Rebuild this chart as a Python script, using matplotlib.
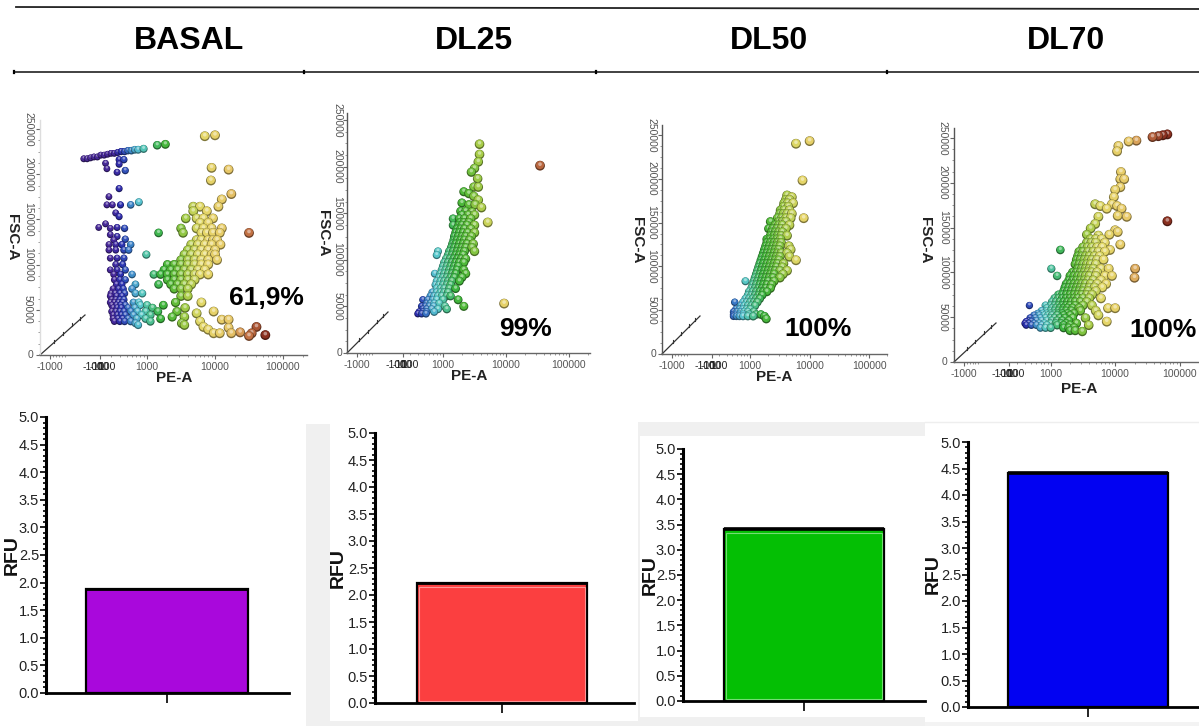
import numpy as np
import matplotlib
matplotlib.use("Agg")
import matplotlib.pyplot as plt
from matplotlib.colors import LinearSegmentedColormap, to_rgb
from matplotlib.patches import Rectangle

plt.rcParams['font.family'] = ['Liberation Sans', 'DejaVu Sans']

# DATA
titles = ["BASAL", "DL25", "DL50", "DL70"]
percent_labels = ["61,9%", "99%", "100%", "100%"]
rfu_values = [1.88, 2.22, 3.41, 4.42]
bar_colors = ["#a908dc", "#fb3f40", "#04bf04", "#0202f2"]
rfu_ticks = ["0.0", "0.5", "1.0", "1.5", "2.0", "2.5", "3.0", "3.5", "4.0", "4.5", "5.0"]
fsc_ticks = [0, 50, 100, 150, 200, 250]
fsc_tick_labels = ["0", "50000", "100000", "150000", "200000", "250000"]
pe_tick_labels = ["1000", "10000", "100000"]

# each row: FSC-A (thousands), then log10(PE-A) of the dots on that row
basal_rows = [
    (217, [2.07, 2.12]), (218, [2.17]), (219, [2.22, 2.27]), (221, [2.32, 2.37]), (222, [2.42]),
    (223, [2.47, 2.52]), (224, [2.57]), (225, [2.62, 2.67]), (226, [2.72, 2.77]), (227, [2.82, 2.87]),
    (228, [2.95]), (232, [3.15]), (233, [3.27]), (242, [3.85]), (243, [4.0]),
    (216, [2.59, 2.66]), (212, [2.39]), (211, [2.59]), (207, [3.95]), (206, [2.41]), (205, [4.2]),
    (204, [2.68]), (202, [2.56]), (193, [3.94]), (184, [2.59]), (178, [4.24]), (175, [2.44]),
    (172, [4.1]), (169, [2.88]), (166, [2.41, 2.49, 2.61, 2.76]), (164, [3.68, 3.78, 4.05]),
    (159, [3.68, 3.88]), (157, [2.54]), (153, [2.59]), (151, [3.57, 3.73, 3.83, 3.97]),
    (146, [3.78, 3.9]), (145, [2.39]), (141, [2.29, 2.56]), (140, [2.46, 2.67, 3.5, 3.73, 3.83, 3.95, 4.1]),
    (135, [3.17, 3.53, 3.8, 3.88, 3.97, 4.07, 4.5]), (133, [2.46]), (131, [2.56]), (128, [2.68]),
    (127, [2.51, 3.73, 3.8, 3.9, 3.97, 4.03]), (122, [2.44, 2.54, 2.63, 2.76, 3.65, 3.75, 3.85, 3.95, 4.08]),
    (116, [2.44, 2.54, 2.66, 2.73, 3.6, 3.7, 3.8, 3.9, 4.0]), (111, [2.99, 3.55, 3.65, 3.75, 3.85, 3.95, 4.0]),
    (107, [2.46, 2.56, 2.66]), (105, [3.5, 3.6, 3.7, 3.8, 3.9, 4.03]), (100, [2.54, 2.64, 3.3, 3.4, 3.5, 3.6, 3.7, 3.8, 3.9]),
    (94, [2.46, 2.56, 2.68, 3.25, 3.35, 3.45, 3.55, 3.65, 3.75, 3.85]),
    (89, [2.51, 2.61, 2.78, 3.1, 3.2, 3.3, 3.4, 3.5, 3.6, 3.7, 3.78, 3.9]),
    (83, [2.52, 2.6, 2.68, 3.3, 3.4, 3.5, 3.6, 3.7]), (78, [2.55, 2.63, 2.83, 3.17, 3.35, 3.45, 3.55, 3.65]),
    (73, [2.5, 2.58, 2.65, 2.78, 3.4, 3.5, 3.6]), (68, [2.47, 2.53, 2.6, 2.67, 2.83, 2.93]),
    (65, [2.46, 2.55, 2.63, 3.5, 3.6]), (61, [2.48, 2.54, 2.6, 2.66]), (58, [2.46, 2.52, 2.58, 2.64, 2.8, 2.88, 3.42, 3.8]),
    (55, [2.48, 2.55, 2.61, 2.68, 2.9, 3.0, 3.24]), (52, [2.5, 2.56, 2.62, 2.72, 2.82, 3.08, 3.56]),
    (48, [2.48, 2.54, 2.6, 2.66, 2.76, 2.86, 2.98, 3.16, 3.44, 3.98]), (46, [3.73]),
    (44, [2.5, 2.56, 2.62, 2.68, 2.8, 2.92, 3.05]), (42, [3.37, 3.55]),
    (40, [2.5, 2.57, 2.64, 2.72, 2.85, 2.98, 3.2]), (39, [4.1, 4.2]), (37, [2.52, 2.6, 2.67, 2.76, 3.78, 3.05]),
    (35, [2.83, 3.51]), (33, [2.87, 3.55]), (31, [3.83, 4.61]), (30, [4.2]), (28, [3.9]),
    (25, [4.37]), (24, [3.98, 4.07, 4.24, 4.54]), (22, [4.74]), (21, [4.5]),
]

dl25_rows = [
    (224, [3.58]), (213, [3.58]), (205, [3.56]), (201, [4.54]), (198, [3.5]), (194, [3.45]), (187, [3.55]),
    (178, [3.49, 3.56]), (173, [3.33]), (171, [3.41]), (168, [3.49]), (164, [3.56]), (161, [3.3]),
    (159, [3.41, 3.51]), (156, [3.61]), (152, [3.28, 3.36]), (151, [3.46]), (148, [3.3, 3.4, 3.5]),
    (144, [3.16, 3.26, 3.34, 3.44]), (140, [3.27, 3.33, 3.41, 3.71]), (137, [3.16, 3.25, 3.3, 3.38, 3.5]),
    (133, [3.22, 3.28, 3.34, 3.44]), (129, [3.2, 3.26, 3.32, 3.39, 3.5]), (125, [3.18, 3.24, 3.3, 3.36, 3.45]),
    (121, [3.17, 3.22, 3.28, 3.34, 3.42]), (117, [3.15, 3.2, 3.26, 3.32, 3.38, 3.48]),
    (113, [3.13, 3.18, 3.24, 3.3, 3.36, 3.46]), (109, [2.92, 3.1, 3.16, 3.22, 3.28, 3.34, 3.5]),
    (105, [2.9, 3.08, 3.14, 3.2, 3.26, 3.32]), (101, [3.05, 3.11, 3.17, 3.23, 3.29, 3.36]),
    (97, [3.02, 3.08, 3.14, 3.2, 3.26, 3.33]), (93, [3.0, 3.06, 3.12, 3.18, 3.24]),
    (89, [2.98, 3.04, 3.1, 3.16, 3.22, 3.33]), (85, [2.87, 2.96, 3.02, 3.08, 3.14, 3.2, 3.36]),
    (81, [2.94, 3.0, 3.06, 3.12, 3.18, 3.3]), (77, [2.9, 2.96, 3.02, 3.08, 3.14, 3.26]),
    (73, [2.88, 2.94, 3.0, 3.06, 3.12]), (69, [2.9, 2.96, 3.02, 3.1, 3.2]), (65, [2.83, 2.9, 2.96, 3.02, 3.08]),
    (61, [2.8, 2.86, 2.92, 2.98, 3.06, 3.12]), (57, [2.68, 2.76, 2.84, 2.9, 3.0, 3.24]),
    (53, [2.74, 2.8, 2.86, 2.94, 3.97]), (50, [2.66, 2.72, 2.78, 2.85, 3.03, 3.33]), (47, [2.68, 2.74, 2.82, 2.92, 3.06]),
    (44, [2.62, 2.68, 2.74, 2.86]), (42, [2.6, 2.66, 2.73]),
]

dl50_rows = [
    (243, [4.0]), (240, [3.77]), (198, [3.88]), (181, [3.62]), (179, [3.7]), (176, [3.6, 3.66]), (172, [3.57, 3.63, 3.72]),
    (168, [3.56, 3.64]), (164, [3.51, 3.57, 3.66]), (160, [3.5, 3.56, 3.62, 3.7]), (155, [3.46, 3.53, 3.6, 3.68, 3.9]),
    (151, [3.34, 3.48, 3.54, 3.6]), (147, [3.42, 3.48, 3.54, 3.66]), (143, [3.31, 3.38, 3.45, 3.52, 3.6]),
    (139, [3.36, 3.42, 3.48, 3.54]), (135, [3.34, 3.4, 3.46, 3.52, 3.62]), (131, [3.28, 3.33, 3.39, 3.45, 3.51]),
    (127, [3.28, 3.34, 3.4, 3.46, 3.52]), (123, [3.26, 3.32, 3.38, 3.44, 3.5, 3.65]),
    (119, [3.24, 3.3, 3.36, 3.42, 3.48, 3.68]), (115, [3.22, 3.28, 3.34, 3.4, 3.46, 3.52, 3.62]),
    (111, [3.2, 3.26, 3.32, 3.38, 3.44, 3.5, 3.66]), (107, [3.18, 3.24, 3.3, 3.36, 3.42, 3.48, 3.77]),
    (103, [3.16, 3.22, 3.28, 3.34, 3.4, 3.46, 3.56]), (99, [3.14, 3.2, 3.26, 3.32, 3.38, 3.44, 3.54]),
    (95, [3.12, 3.18, 3.24, 3.3, 3.36, 3.42, 3.5, 3.62]), (91, [3.1, 3.16, 3.22, 3.28, 3.34, 3.4, 3.55]),
    (87, [3.08, 3.14, 3.2, 3.26, 3.32, 3.38, 3.5]), (83, [2.92, 3.06, 3.12, 3.18, 3.24, 3.3, 3.4]),
    (79, [3.04, 3.1, 3.16, 3.22, 3.28, 3.36]), (75, [3.02, 3.08, 3.14, 3.2, 3.26, 3.34]),
    (71, [2.98, 3.04, 3.1, 3.16, 3.22, 3.28]), (67, [2.96, 3.02, 3.08, 3.14, 3.2]), (63, [2.92, 2.98, 3.04, 3.1, 3.16]),
    (59, [2.74, 2.88, 2.94, 3.0, 3.06, 3.12]), (55, [2.84, 2.9, 2.96, 3.02, 3.08]), (51, [2.76, 2.82, 2.88, 2.94, 3.0]),
    (48, [2.72, 2.78, 2.84, 2.9, 2.96, 3.06]), (45, [2.72, 2.76, 2.82, 2.88, 2.98, 3.1, 3.18]),
    (43, [2.72, 2.77, 2.82, 2.88, 2.96, 3.05, 3.24]), (40, [3.27]),
]

dl70_rows = [
    (254, [4.81]), (253, [4.74]), (252, [4.67]), (251, [4.58]), (247, [4.33]), (246, [4.21]), (241, [4.05]), (235, [4.03]),
    (212, [4.09]), (204, [4.08, 4.14]), (195, [4.08]), (192, [4.0]), (184, [3.98]), (176, [3.69, 3.95]),
    (174, [3.77, 4.03]), (171, [3.87, 4.1]), (163, [4.04]), (162, [3.74, 4.18]), (157, [4.81]), (154, [3.69]),
    (149, [3.62]), (147, [4.0]), (145, [4.04]), (142, [3.56, 3.91]), (141, [3.74]), (137, [3.62, 3.7, 3.79]),
    (133, [3.56, 3.63, 3.7, 3.84]), (131, [4.08]), (128, [3.5, 3.57, 3.64, 3.72, 3.8]), (125, [3.15, 3.92]),
    (123, [3.44, 3.5, 3.58, 3.66, 3.74, 3.84]), (118, [3.42, 3.48, 3.54, 3.6, 3.68, 3.76]),
    (114, [3.4, 3.46, 3.52, 3.58, 3.64, 3.72, 3.82]), (109, [3.38, 3.44, 3.5, 3.56, 3.62, 3.7]),
    (104, [3.01, 3.42, 3.48, 3.54, 3.6, 3.66, 3.78, 3.9, 4.31]), (100, [3.34, 3.4, 3.46, 3.52, 3.58, 3.64, 3.72]),
    (96, [3.1, 3.3, 3.36, 3.42, 3.48, 3.54, 3.6, 3.7, 3.84, 3.95]), (94, [4.3]),
    (91, [3.28, 3.34, 3.4, 3.46, 3.52, 3.58, 3.66, 3.78]), (87, [3.24, 3.3, 3.36, 3.42, 3.48, 3.54, 3.62, 3.72, 3.86]),
    (83, [3.22, 3.28, 3.34, 3.4, 3.46, 3.52, 3.6, 3.68, 3.8]), (79, [3.2, 3.26, 3.32, 3.38, 3.44, 3.5, 3.58, 3.7]),
    (75, [3.12, 3.18, 3.24, 3.3, 3.36, 3.42, 3.48, 3.56, 3.64]), (71, [3.06, 3.12, 3.18, 3.24, 3.3, 3.36, 3.42, 3.5, 3.6, 3.78]),
    (67, [3.02, 3.08, 3.14, 3.2, 3.26, 3.32, 3.38, 3.46, 3.56]), (63, [2.67, 2.92, 3.0, 3.06, 3.12, 3.18, 3.24, 3.3, 3.38, 3.5, 3.64]),
    (60, [2.94, 3.02, 3.08, 3.14, 3.2, 3.26, 3.34, 3.44, 3.89, 4.0]), (57, [2.86, 2.94, 3.0, 3.06, 3.12, 3.18, 3.24, 3.32, 3.46, 3.7]),
    (54, [2.8, 2.88, 2.94, 3.0, 3.06, 3.12, 3.18, 3.26, 3.36]), (52, [2.74, 2.82, 2.9, 2.96, 3.02, 3.1, 3.2, 3.3, 3.74]),
    (49, [2.68, 2.76, 2.84, 2.92, 3.0, 3.06, 3.14, 3.22, 3.34, 3.54]), (46, [2.66, 2.72, 2.78, 2.86, 2.94, 3.02, 3.1, 3.18, 3.28]),
    (45, [2.62, 2.7, 3.87]), (43, [2.6, 2.66, 2.74, 2.82, 2.9, 3.0, 3.08, 3.16, 3.24, 3.4]),
    (41, [2.62, 2.7, 2.78, 2.86, 2.94, 3.1, 3.2, 3.3, 3.59]), (38, [2.84, 2.92, 3.0, 3.2, 3.28, 3.36]),
    (35, [3.3, 3.38]), (34, [3.49]),
]
scatter_rows = [basal_rows, dl25_rows, dl50_rows, dl70_rows]

# LAYOUT (pixels): origin x/y, x of 1000, px per decade, y of 250000, right end, top end
flow_geom = [
    (40, 355, 147, 68, 129, 307, 120),
    (347, 353, 443, 63, 120, 590, 113),
    (662, 354, 751, 60, 135, 887, 125),
    (954, 362, 1053, 66, 138, 1199, 128),
]
# axis x, y of 5.0, y of 0.0, bar left, bar right, baseline end
bar_geom = [
    (46, 417, 693, 86, 248, 289),
    (375, 433, 703, 417, 587, 634),
    (683, 449, 701, 724, 884, 925),
    (968, 442, 707, 1008, 1168, 1199),
]
title_x = [189, 474, 769, 1066]
title_y = 41
pct_pos = [(266, 298), (526, 329), (818, 329), (1163, 330)]
diag_len = [(45, 40), (41, 41), (38, 38), (42, 39)]
xlabel_pos = [(174, 378), (469, 376), (774, 377), (1079, 389)]
ylabel_pos = [(12, 237), (323, 233), (637, 240), (925, 240)]
ytick_pad = [2, 0.5, 1, 1.5]
pile_offset = [47, 40, 39, 43]
rfu_label_x = [12, 338, 650, 933]

W, H = 1199, 726
fig = plt.figure(figsize=(W / 100, H / 100), dpi=100, facecolor="white")


def px_axes(x0, ytop, x1, ybot):
    ax = fig.add_axes([x0 / W, 1 - ybot / H, (x1 - x0) / W, (ybot - ytop) / H])
    ax.patch.set_alpha(0)
    return ax


# sheet in pixel coordinates, for rules and grey backing
sheet = fig.add_axes([0, 0, 1, 1], zorder=-1)
sheet.set_xlim(0, W)
sheet.set_ylim(H, 0)
sheet.axis("off")
sheet.add_patch(Rectangle((306, 424), 332, 302, color="#f0f0f0", lw=0))
sheet.add_patch(Rectangle((330, 424), 308, 297, color="white", lw=0))
sheet.add_patch(Rectangle((638, 422), 287, 304, color="#f0f0f0", lw=0))
sheet.add_patch(Rectangle((640, 436), 285, 281, color="white", lw=0))
sheet.plot([925, 1199], [422, 422], color="#eeeeee", lw=1)
sheet.add_patch(Rectangle((925, 722), 274, 4, color="#f3f3f3", lw=0))
sheet.plot([16, 1199], [7, 9], color="#222222", lw=1.3)
sheet.plot([14, 1199], [72, 72], color="#333333", lw=1.3)
for tx in [14, 304, 596, 887]:
    sheet.plot([tx, tx], [71, 73], color="black", lw=1.6)

for tx, t in zip(title_x, titles):
    sheet.text(tx, title_y, t, fontsize=23, fontweight="bold", ha="center", va="center")

cmap = LinearSegmentedColormap.from_list("flow", [
    (0.00, "#4a2a96"), (0.17, "#46289a"), (0.21, "#2a2fb0"), (0.26, "#3a7fc8"),
    (0.31, "#58c8d0"), (0.37, "#4cc090"), (0.43, "#3cb43c"), (0.50, "#5cbc38"),
    (0.57, "#a8cc48"), (0.65, "#e4d868"), (0.80, "#e8c868"), (0.90, "#c87848"),
    (1.00, "#8a3020"),
])


def draw_spheres(ax, rows, y_per_px):
    xs = np.array([x for y, r in rows for x in r])
    ys = np.array([y for y, r in rows for x in r], dtype=float)
    t = np.clip((xs - 2.05) / (4.75 - 2.05), 0, 1)
    base = cmap(t)[:, :3]
    sizes = np.clip(24 + (xs - 2.5) * 22, 24, 50)
    # dark rim, body, highlight, stacked dot by dot so dense parts read solid
    lay_x = np.repeat(xs, 3)
    lay_y = np.column_stack([ys, ys + 0.6 * y_per_px, ys + 1.5 * y_per_px]).ravel()
    lay_s = np.column_stack([sizes, sizes * 0.68, sizes * 0.14]).ravel()
    lay_c = np.stack([base * 0.55, base, 0.55 * base + 0.45], axis=1).reshape(-1, 3)
    ax.scatter(lay_x, lay_y, s=lay_s, c=lay_c, linewidths=0, zorder=3)


for i in range(4):
    ox, oy, x1000, dec, y250, xr, yt = flow_geom[i]
    ax = px_axes(ox, yt, xr, oy)
    ax.set_xlim(3 + (ox - x1000) / dec, 3 + (xr - x1000) / dec)
    ax.set_ylim(0, (oy - yt) * 250 / (oy - y250))
    draw_spheres(ax, scatter_rows[i], 250 / (oy - y250))

    for s in ["top", "right"]:
        ax.spines[s].set_visible(False)
    ax.spines["bottom"].set_color("#666666")
    ax.spines["left"].set_color("#dddddd" if i == 0 else "#555555")
    ax.spines["bottom"].set_linewidth(1.0)
    ax.spines["left"].set_linewidth(1.0)

    ax.set_yticks(fsc_ticks)
    ax.set_yticklabels(fsc_tick_labels, rotation=270, va="center", fontsize=7.5, color="#555555")
    ax.set_yticks(np.arange(0, 251, 12.5), minor=True)
    ax.tick_params(axis="y", which="major", length=3, width=0.8, color="#666666", pad=ytick_pad[i])
    ax.tick_params(axis="y", which="minor", length=1.5, width=0.6, color="#888888")
    ax.get_yticklabels()[0].set_rotation(0)

    xlo = ax.get_xlim()[0]
    neg_pos = xlo + 10 / dec
    mid_pos = 3 - pile_offset[i] / dec
    ax.set_xticks([neg_pos, mid_pos, 3, 4, 5])
    ax.set_xticklabels(["-1000", "", "1000", "10000", "100000"], fontsize=7.5, color="#555555")
    minor = [d + np.log10(m) for d in [3, 4] for m in range(2, 10)]
    minor += [2 + np.log10(m) for m in range(3, 10)] + [5 + np.log10(2)]
    minor += [neg_pos + k * 3 / dec for k in range(1, 6)]
    ax.set_xticks(minor, minor=True)
    ax.tick_params(axis="x", which="major", length=3, width=0.8, color="#666666", pad=2)
    ax.tick_params(axis="x", which="minor", length=1.5, width=0.6, color="#888888")
    # negative, zero and low ticks pile up on one spot in the source software
    for lab, off in zip(["-100", "-10", "0", "10", "100"], [-7, -3, 0, 3, 7]):
        ax.annotate(lab, (mid_pos + off / dec, 0), xycoords=ax.get_xaxis_transform(),
                    xytext=(0, -5), textcoords="offset points", fontsize=7.5,
                    ha="center", va="top", color="#222222", annotation_clip=False)

    # 3D perspective stub at the origin
    dx, dy = diag_len[i]
    sheet.plot([ox, ox + dx], [oy, oy - dy], color="#333333", lw=0.9)
    for f in [0.3, 0.5, 0.72, 0.88]:
        px, py = ox + dx * f, oy - dy * f
        sheet.plot([px, px], [py, py - 3], color="#333333", lw=0.8)

    sheet.text(*pct_pos[i], percent_labels[i], fontsize=19, fontweight="bold", ha="center", va="center", zorder=5)
    sheet.text(*xlabel_pos[i], "PE-A", fontsize=11, fontweight="bold", ha="center", va="center", color="#222222")
    sheet.text(*ylabel_pos[i], "FSC-A", fontsize=11, fontweight="bold", rotation=270, ha="center", va="center", color="#222222")

for i in range(4):
    axx, y5, y0, bl, br, xend = bar_geom[i]
    ax = px_axes(axx, y5, xend, y0)
    # one category at 0 with width 1, so the limits follow from the bar edges in pixels
    span = br - bl
    centre = (bl + br) / 2
    ax.set_xlim((axx - centre) / span, (xend - centre) / span)
    ax.set_ylim(0, 5)
    ax.bar([0], [rfu_values[i]], width=1, color=bar_colors[i], edgecolor="black", linewidth=1.6, zorder=2, clip_on=False)
    ax.plot([-0.5, 0.5], [rfu_values[i]] * 2, color="black", lw=2.6 if i >= 2 else 2, zorder=3, solid_capstyle="butt")
    if i in [1, 2]:
        rim = tuple(0.55 * c + 0.45 for c in to_rgb(bar_colors[i]))
        ax.add_patch(Rectangle((-0.49, 0.03), 0.98, rfu_values[i] - 0.1, fill=False, edgecolor=rim, lw=0.8, zorder=3))

    for s in ["top", "right"]:
        ax.spines[s].set_visible(False)
    ax.spines["left"].set_linewidth(2.2)
    ax.spines["bottom"].set_linewidth(2.0)
    ax.set_xticks([0])
    ax.set_xticklabels([""])
    ax.tick_params(axis="x", length=7, width=1.2)
    ax.set_yticks(np.arange(0, 5.01, 0.5))
    ax.set_yticklabels(rfu_ticks, fontsize=10.5, color="#222222")
    ax.set_yticks(np.arange(0, 5.01, 0.1), minor=True)
    ax.tick_params(axis="y", which="major", length=4, width=1.2, pad=1)
    ax.tick_params(axis="y", which="minor", length=2, width=1.2)
    sheet.text(rfu_label_x[i], (y5 + y0) / 2, "RFU", fontsize=14, fontweight="bold",
               rotation=90, ha="center", va="center", color="#111111")

fig.savefig("out.png", dpi=100)
